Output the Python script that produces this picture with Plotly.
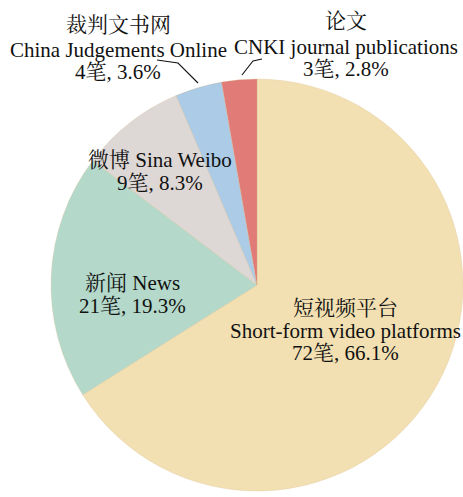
import plotly.graph_objects as go

# Data
cn_labels = ["短视频平台", "新闻", "微博", "裁判文书网", "论文"]
en_labels = ["Short-form video platforms", "News", "Sina Weibo", "China Judgements Online", "CNKI journal publications"]
counts = [72, 21, 9, 4, 3]
pct_labels = ["66.1%", "19.3%", "8.3%", "3.6%", "2.8%"]
colors = ["#F2E0B2", "#B4D9CA", "#DDD8D6", "#ACCBE6", "#E07B77"]

W, H = 463, 497
FONT = "Times New Roman, Liberation Serif, Noto Serif CJK SC, Noto Sans CJK SC, serif"

def px(x):
    return x / W

def py(y):
    return 1 - y / H

fig = go.Figure(go.Pie(
    labels=[f"{c} {e}" for c, e in zip(cn_labels, en_labels)],
    values=counts,
    sort=False,
    direction="clockwise",
    rotation=0,
    marker=dict(colors=colors, line=dict(color="rgba(215,185,140,0.35)", width=0.8)),
    textinfo="none",
    hoverinfo="label+value+percent",
    domain=dict(x=[px(51), 1.0], y=[py(491), py(79)]),
    showlegend=False,
))

# label lines per slice
lines = [
    [cn_labels[0], en_labels[0], f"{counts[0]}笔, {pct_labels[0]}"],
    [f"{cn_labels[1]} {en_labels[1]}", f"{counts[1]}笔, {pct_labels[1]}"],
    [f"{cn_labels[2]} {en_labels[2]}", f"{counts[2]}笔, {pct_labels[2]}"],
    [cn_labels[3], en_labels[3], f"{counts[3]}笔, {pct_labels[3]}"],
    [cn_labels[4], en_labels[4], f"{counts[4]}笔, {pct_labels[4]}"],
]
# (x centre, y of each line) in canvas pixels
label_pos = [
    (345, [308, 331, 353]),
    (132, [283, 306]),
    (160, [160, 183]),
    (118, [25, 50, 72]),
    (346, [21, 47, 69]),
]

annotations = []
for block, (x, ys) in zip(lines, label_pos):
    for t, y in zip(block, ys):
        annotations.append(dict(
            text=t, x=px(x), y=py(y), xref="paper", yref="paper",
            xanchor="center", yanchor="middle", showarrow=False,
            font=dict(family=FONT, size=21, color="#111111"), align="center",
        ))

def polyline(pts):
    d = "M " + " L ".join(f"{px(a)},{py(b)}" for a, b in pts)
    return dict(type="path", path=d, xref="paper", yref="paper",
                line=dict(color="#111111", width=1.1))

shapes = [
    polyline([(157, 60), (178, 63), (198, 83)]),
    polyline([(262, 59), (253, 61), (242, 75)]),
]

fig.update_layout(
    width=W, height=H,
    margin=dict(l=0, r=0, t=0, b=0),
    paper_bgcolor="white", plot_bgcolor="white",
    annotations=annotations, shapes=shapes,
)

fig.write_html(
    "out.html",
    config={"displayModeBar": False},
    post_script="document.body.style.margin='0';document.body.style.overflow='hidden';",
)
